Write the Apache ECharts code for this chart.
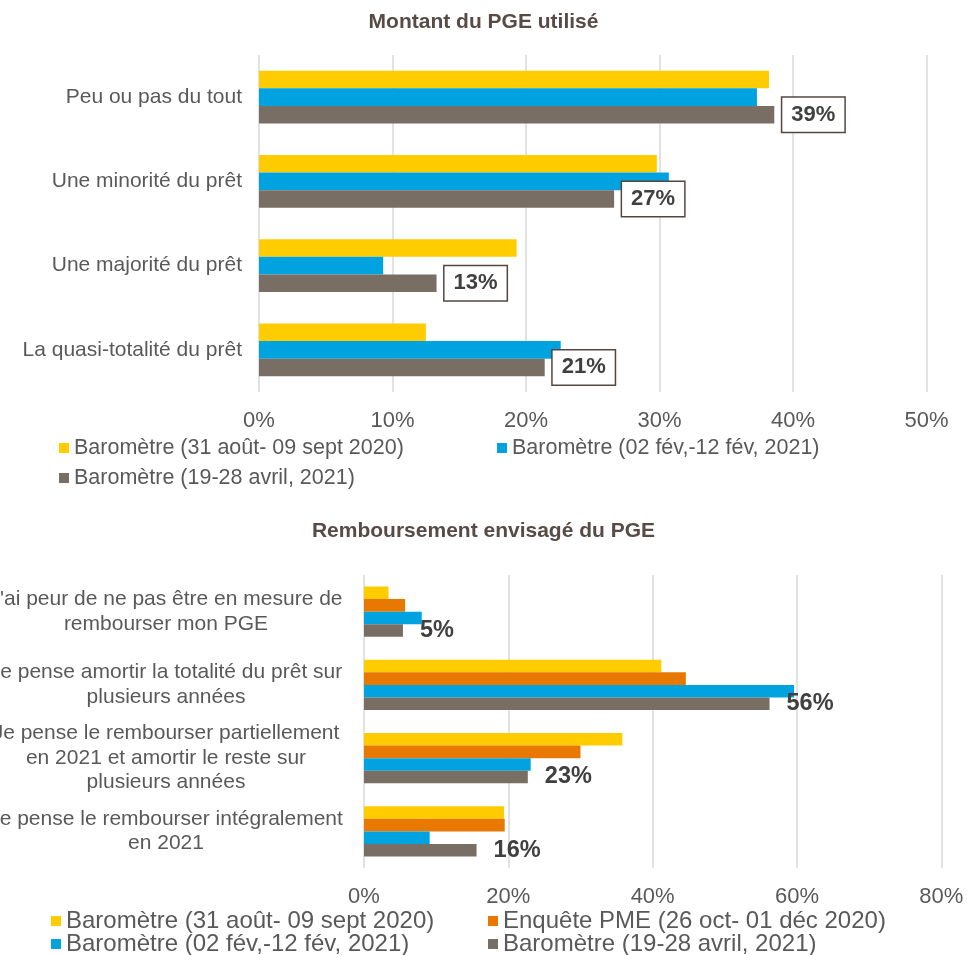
<!DOCTYPE html>
<html>
<head>
<meta charset="utf-8">
<script src="https://cdn.jsdelivr.net/npm/echarts@6/dist/echarts.min.js"></script>
<style>
html,body{margin:0;padding:0;background:#fff;}
#chart{width:967px;height:955px;}
</style>
</head>
<body>
<div id="chart"></div>
<script>
// ---- Data: top chart ----
const topTitle = 'Montant du PGE utilisé';
const topCategories = ['Peu ou pas du tout', 'Une minorité du prêt', 'Une majorité du prêt', 'La quasi-totalité du prêt'];
const topSep2020 = [38.2, 29.8, 19.3, 12.5];
const topFeb2021 = [37.3, 30.7, 9.3, 22.6];
const topApr2021 = [38.6, 26.6, 13.3, 21.4];
const topTicks = [0, 10, 20, 30, 40, 50];

// ---- Data: bottom chart ----
const bottomTitle = 'Remboursement envisagé du PGE';
const bottomCategories = [
  "J'ai peur de ne pas être en mesure de\nrembourser mon PGE",
  'Je pense amortir la totalité du prêt sur\nplusieurs années',
  'Je pense le rembourser partiellement\nen 2021 et amortir le reste sur\nplusieurs années',
  'Je pense le rembourser intégralement\nen 2021'
];
const botSep2020 = [3.4, 41.2, 35.8, 19.4];
const botPme2020 = [5.7, 44.6, 30.0, 19.5];
const botFeb2021 = [8.0, 59.6, 23.1, 9.1];
const botApr2021 = [5.4, 56.2, 22.7, 15.6];
const bottomTicks = [0, 20, 40, 60, 80];

// ---- Series names ----
const nSep = 'Baromètre (31 août- 09 sept 2020)';
const nPme = 'Enquête PME (26 oct- 01 déc 2020)';
const nFeb = 'Baromètre (02 fév,-12 fév, 2021)';
const nApr = 'Baromètre (19-28 avril, 2021)';

const C_YEL = '#FFCC00', C_ORA = '#E87800', C_BLU = '#00A3E0', C_BRN = '#786E64';
const FONT = '"Liberation Sans", Arial, sans-serif';
const TXT = '#595959';

const chart = echarts.init(document.getElementById('chart'), null, {renderer: 'canvas'});

function valueAxis(gridIndex, ticks) {
  return {
    type: 'value', gridIndex: gridIndex,
    min: ticks[0], max: ticks[ticks.length - 1], interval: ticks[1] - ticks[0],
    axisLine: {show: false}, axisTick: {show: false},
    splitLine: {show: true, lineStyle: {color: '#D9D9D9', width: 1.5}},
    axisLabel: {formatter: '{value}%', color: TXT, fontSize: 22, fontFamily: FONT, margin: 18}
  };
}

function bar(name, data, color, xi, label) {
  const s = {
    name: name, type: 'bar', data: data, xAxisIndex: xi, yAxisIndex: xi,
    itemStyle: {color: color}, barGap: '0%',
    barCategoryGap: xi === 0 ? '37.5%' : '31.4%',
    animation: false
  };
  if (label) s.label = label;
  return s;
}

const topLabel = {
  show: true, position: 'right', distance: 8,
  formatter: p => Math.round(p.value) + '%',
  fontFamily: FONT, fontWeight: 'bold', fontSize: 22, color: '#404040',
  backgroundColor: '#fff', borderColor: '#54463F', borderWidth: 1.5,
  padding: [7, 9, 5, 9]
};
const botLabel = {
  show: true, position: 'right', distance: 17,
  formatter: p => Math.round(p.value) + '%',
  fontFamily: FONT, fontWeight: 'bold', fontSize: 23.5, color: '#404040'
};

function legend(name, left, top, size) {
  return {
    data: [name], left: left, top: top, padding: 0,
    icon: 'rect', itemWidth: 10, itemHeight: 10, itemGap: 0,
    textStyle: {fontSize: size, color: TXT, fontFamily: FONT, padding: [0, 0, 0, 0]}
  };
}

const option = {
  backgroundColor: '#fff',
  animation: false,
  title: [
    {text: topTitle, left: 'center', top: 12, padding: 0,
     textStyle: {fontSize: 21, fontWeight: 'bold', color: '#584A44', fontFamily: FONT}},
    {text: bottomTitle, left: 'center', top: 521, padding: 0,
     textStyle: {fontSize: 21, fontWeight: 'bold', color: '#584A44', fontFamily: FONT}}
  ],
  legend: [
    legend(nSep, 59, 437, 21.5),
    legend(nFeb, 497, 437, 21.5),
    legend(nApr, 59, 467, 21.5),
    legend(nSep, 51, 909, 24),
    legend(nPme, 488, 909, 24),
    legend(nFeb, 51, 932, 24),
    legend(nApr, 488, 932, 24)
  ],
  grid: [
    {left: 259, right: 40.5, top: 55, height: 337, containLabel: false, outerBoundsMode: 'none'},
    {left: 364, right: 25.7, top: 575, height: 293, containLabel: false, outerBoundsMode: 'none'}
  ],
  xAxis: [valueAxis(0, topTicks), valueAxis(1, bottomTicks)],
  yAxis: [
    {type: 'category', gridIndex: 0, data: topCategories, inverse: true,
     axisLine: {show: false}, axisTick: {show: false},
     axisLabel: {color: TXT, fontSize: 21, fontFamily: FONT, margin: 17}},
    {type: 'category', gridIndex: 1, data: bottomCategories, inverse: true,
     axisLine: {show: false}, axisTick: {show: false},
     axisLabel: {color: TXT, fontSize: 21, fontFamily: FONT, margin: 198, align: 'center', lineHeight: 24.5}}
  ],
  series: [
    bar(nSep, topSep2020, C_YEL, 0),
    bar(nFeb, topFeb2021, C_BLU, 0),
    bar(nApr, topApr2021, C_BRN, 0, topLabel),
    bar(nSep, botSep2020, C_YEL, 1),
    bar(nPme, botPme2020, C_ORA, 1),
    bar(nFeb, botFeb2021, C_BLU, 1),
    bar(nApr, botApr2021, C_BRN, 1, botLabel)
  ]
};
chart.setOption(option);
</script>
</body>
</html>
